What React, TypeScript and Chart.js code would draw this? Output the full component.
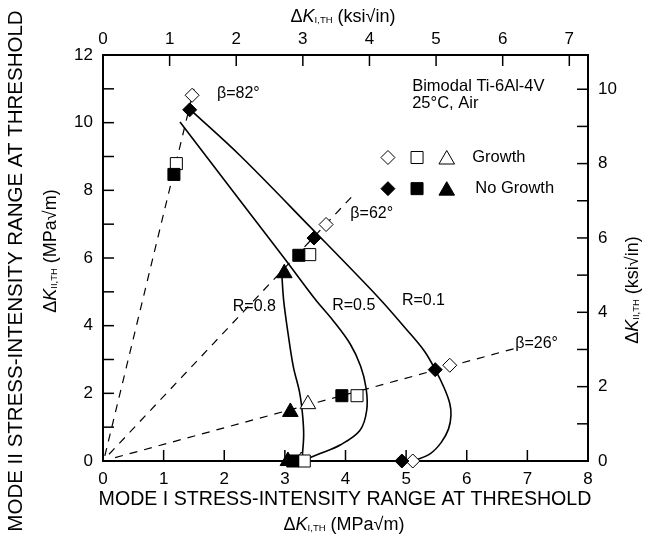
import React, { useEffect, useRef } from 'react';
import { Chart, registerables } from 'chart.js';

Chart.register(...registerables);

const MPA_PER_KSI = 1.0988;
const X_MAX = 8;
const Y_MAX = 12;

// Growth (open symbols)
const growthDiamonds = [
  { x: 1.47, y: 10.81 }, { x: 3.68, y: 6.99 }, { x: 5.72, y: 2.83 }, { x: 5.11, y: 0 },
];
const growthSquares = [
  { x: 1.21, y: 8.79 }, { x: 3.41, y: 6.1 }, { x: 4.19, y: 1.93 }, { x: 3.32, y: 0 },
];
const growthTriangles = [{ x: 3.38, y: 1.68 }, { x: 3.27, y: 0 }];

// No growth (filled symbols)
const noGrowthDiamonds = [
  { x: 1.43, y: 10.38 }, { x: 3.48, y: 6.59 }, { x: 5.48, y: 2.7 }, { x: 4.93, y: 0 },
];
const noGrowthSquares = [
  { x: 1.17, y: 8.47 }, { x: 3.23, y: 6.08 }, { x: 3.94, y: 1.93 }, { x: 3.13, y: 0 },
];
const noGrowthTriangles = [{ x: 2.99, y: 5.55 }, { x: 3.09, y: 1.45 }, { x: 3.05, y: 0 }];

// Threshold curves
const curveR01 = [
  { x: 1.43, y: 10.4 }, { x: 2.26, y: 9.03 }, { x: 3.4, y: 6.95 }, { x: 4.55, y: 4.82 },
  { x: 5.01, y: 3.88 }, { x: 5.3, y: 3.25 }, { x: 5.48, y: 2.7 }, { x: 5.63, y: 2.15 },
  { x: 5.72, y: 1.7 }, { x: 5.74, y: 1.35 }, { x: 5.7, y: 0.95 }, { x: 5.58, y: 0.55 },
  { x: 5.4, y: 0.22 }, { x: 5.12, y: 0 },
];
const curveR05 = [
  { x: 1.27, y: 10.02 }, { x: 2.26, y: 7.7 }, { x: 3.0, y: 5.97 }, { x: 3.5, y: 4.78 },
  { x: 3.8, y: 4.14 }, { x: 4.08, y: 3.45 }, { x: 4.25, y: 2.8 }, { x: 4.34, y: 2.15 },
  { x: 4.35, y: 1.5 }, { x: 4.24, y: 0.91 }, { x: 3.92, y: 0.48 }, { x: 3.58, y: 0.22 },
  { x: 3.28, y: 0 },
];
const curveR08 = [
  { x: 2.95, y: 5.5 }, { x: 2.98, y: 4.75 }, { x: 3.05, y: 3.8 }, { x: 3.14, y: 2.78 },
  { x: 3.24, y: 2.05 }, { x: 3.29, y: 1.4 }, { x: 3.31, y: 0.75 }, { x: 3.28, y: 0 },
];

// Loading-angle lines
const beta82 = [{ x: 0.03, y: 0.15 }, { x: 1.5, y: 11.0 }];
const beta62 = [{ x: 0.1, y: 0.2 }, { x: 4.15, y: 7.9 }];
const beta26 = [{ x: 0.2, y: 0.1 }, { x: 6.8, y: 3.33 }];

// Text annotations (data units)
const annotationTexts = ['β=82°', 'β=62°', 'β=26°', 'R=0.8', 'R=0.5', 'R=0.1', 'Bimodal Ti-6Al-4V', '25°C, Air'];
const annotationX = [1.88, 4.08, 6.8, 2.14, 3.78, 4.93, 5.1, 5.1];
const annotationY = [10.87, 7.32, 3.48, 4.57, 4.6, 4.75, 11.07, 10.57];
const annotationSize = [16, 16, 16, 16, 16, 16, 16.5, 16.5];

// Legend
const legendLabels = ['Growth', 'No Growth'];
const legendRowY = [8.97, 8.05];
const legendMarkerX = [4.7, 5.18, 5.67];
const legendTextX = [6.09, 6.14];

const FONT = '"Liberation Sans", Arial, Helvetica, sans-serif';

type Part = { t: string; size: number; italic?: boolean; dy?: number };

function drawParts(ctx: CanvasRenderingContext2D, parts: Part[], cx: number, cy: number, rotate: boolean) {
  ctx.save();
  ctx.translate(cx, cy);
  if (rotate) ctx.rotate(-Math.PI / 2);
  ctx.fillStyle = '#000';
  ctx.textBaseline = 'alphabetic';
  ctx.textAlign = 'left';
  let total = 0;
  const widths: number[] = [];
  for (const p of parts) {
    ctx.font = `${p.italic ? 'italic ' : ''}${p.size}px ${FONT}`;
    const w = ctx.measureText(p.t).width;
    widths.push(w);
    total += w;
  }
  let x = -total / 2;
  const base = parts[0].size * 0.36;
  parts.forEach((p, i) => {
    ctx.font = `${p.italic ? 'italic ' : ''}${p.size}px ${FONT}`;
    ctx.fillText(p.t, x, base + (p.dy || 0));
    x += widths[i];
  });
  ctx.restore();
}

function marker(ctx: CanvasRenderingContext2D, style: string, x: number, y: number, r: number, filled: boolean) {
  ctx.beginPath();
  if (style === 'diamond') {
    ctx.moveTo(x, y - r); ctx.lineTo(x + r, y); ctx.lineTo(x, y + r); ctx.lineTo(x - r, y);
    ctx.closePath();
  } else if (style === 'square') {
    const h = r * Math.SQRT1_2;
    ctx.rect(x - h, y - h, 2 * h, 2 * h);
  } else {
    ctx.moveTo(x, y - r);
    ctx.lineTo(x + 0.866 * r, y + 0.5 * r);
    ctx.lineTo(x - 0.866 * r, y + 0.5 * r);
    ctx.closePath();
  }
  ctx.fillStyle = filled ? '#000' : '#fff';
  ctx.fill();
  ctx.strokeStyle = '#000';
  ctx.lineWidth = 1;
  ctx.stroke();
}

const inwardTicks = {
  id: 'inwardTicks',
  beforeDatasetsDraw(chart: any) {
    const { ctx, chartArea: a, scales } = chart;
    const L = 11;
    ctx.save();
    ctx.strokeStyle = '#000';
    ctx.lineWidth = 1.5;
    const seg = (x1: number, y1: number, x2: number, y2: number) => {
      ctx.beginPath(); ctx.moveTo(x1, y1); ctx.lineTo(x2, y2); ctx.stroke();
    };
    for (const t of scales.x.ticks) { const p = scales.x.getPixelForValue(t.value); seg(p, a.bottom, p, a.bottom - L); }
    for (const t of scales.x2.ticks) { const p = scales.x2.getPixelForValue(t.value); seg(p, a.top, p, a.top + L); }
    for (const t of scales.y.ticks) { const p = scales.y.getPixelForValue(t.value); seg(a.left, p, a.left + L, p); }
    for (const t of scales.y2.ticks) { const p = scales.y2.getPixelForValue(t.value); seg(a.right, p, a.right - L, p); }
    ctx.restore();
  },
};

const textPlugin = {
  id: 'texts',
  afterDraw(chart: any) {
    const { ctx, scales } = chart;
    const sx = scales.x, sy = scales.y;
    // axis titles
    drawParts(ctx, [
      { t: 'Δ', size: 18 }, { t: 'K', size: 18, italic: true }, { t: 'I,TH', size: 9.5, dy: 1 }, { t: ' (ksi√in)', size: 18 },
    ], 335, 8, false);
    drawParts(ctx, [{ t: 'MODE I STRESS-INTENSITY RANGE AT THRESHOLD', size: 19.6 }], 337, 490, false);
    drawParts(ctx, [
      { t: 'Δ', size: 18 }, { t: 'K', size: 18, italic: true }, { t: 'I,TH', size: 9.5, dy: 1 }, { t: ' (MPa√m)', size: 18 },
    ], 336, 516, false);
    drawParts(ctx, [{ t: 'MODE II STRESS-INTENSITY RANGE AT THRESHOLD', size: 20.5 }], 7, 263, true);
    drawParts(ctx, [
      { t: 'Δ', size: 18 }, { t: 'K', size: 18, italic: true }, { t: 'II,TH', size: 9.5, dy: 1 }, { t: ' (MPa√m)', size: 18 },
    ], 42, 243, true);
    drawParts(ctx, [
      { t: 'Δ', size: 18 }, { t: 'K', size: 18, italic: true }, { t: 'II,TH', size: 9.5, dy: 1 }, { t: ' (ksi√in)', size: 18 },
    ], 624, 282, true);

    // annotations
    ctx.save();
    ctx.fillStyle = '#000';
    ctx.textAlign = 'left';
    ctx.textBaseline = 'middle';
    annotationTexts.forEach((t, i) => {
      ctx.font = `${annotationSize[i]}px ${FONT}`;
      ctx.fillText(t, sx.getPixelForValue(annotationX[i]), sy.getPixelForValue(annotationY[i]));
    });
    // legend
    const styles = ['diamond', 'square', 'triangle'];
    const radii = [7, 8.5, 9];
    legendLabels.forEach((lab, row) => {
      const py = sy.getPixelForValue(legendRowY[row]);
      styles.forEach((s, k) => {
        marker(ctx, s, sx.getPixelForValue(legendMarkerX[k]), py + (s === 'triangle' ? 2 : 0), radii[k], row === 1);
      });
      ctx.fillStyle = '#000';
      ctx.font = `16.5px ${FONT}`;
      ctx.textBaseline = 'middle';
      ctx.fillText(lab, sx.getPixelForValue(legendTextX[row]), py);
    });
    ctx.restore();
  },
};

function pts(data: any[], style: string, radius: number, filled: boolean, order: number) {
  return {
    type: 'scatter' as const,
    data,
    showLine: false,
    pointStyle: style,
    pointRadius: radius,
    pointHoverRadius: radius,
    backgroundColor: filled ? '#000' : '#fff',
    borderColor: '#000',
    borderWidth: 1,
    clip: false as any,
    order,
  };
}

function line(data: any[], dashed: boolean) {
  return {
    type: 'line' as const,
    data,
    showLine: true,
    borderColor: '#000',
    borderWidth: dashed ? 1.2 : 1.6,
    borderDash: dashed ? [8, 7] : [],
    pointRadius: 0,
    tension: dashed ? 0 : 0.35,
    fill: false,
    clip: false as any,
    order: 10,
  };
}

const evenLabel = (v: any) => (Number(v) % 2 === 0 ? String(v) : '');

export default function App() {
  const ref = useRef<HTMLCanvasElement>(null);
  useEffect(() => {
    const tickFont = { family: FONT, size: 17 };
    const chart = new Chart(ref.current as HTMLCanvasElement, {
      type: 'scatter',
      data: {
        datasets: [
          line(curveR01, false), line(curveR05, false), line(curveR08, false),
          line(beta82, true), line(beta62, true), line(beta26, true),
          pts(growthDiamonds, 'rectRot', 7, false, 5),
          pts(growthSquares, 'rect', 8.5, false, 5),
          pts(growthTriangles, 'triangle', 9, false, 5),
          pts(noGrowthDiamonds, 'rectRot', 7, true, 1),
          pts(noGrowthSquares, 'rect', 8.5, true, 1),
          pts(noGrowthTriangles, 'triangle', 9, true, 1),
        ] as any,
      },
      options: {
        responsive: false,
        animation: false,
        devicePixelRatio: 1,
        events: [],
        layout: { padding: 0 },
        plugins: { legend: { display: false }, tooltip: { enabled: false } },
        scales: {
          x: {
            type: 'linear', position: 'bottom', min: 0, max: X_MAX,
            grid: { display: false, drawTicks: false },
            border: { display: true, color: '#000', width: 2 },
            ticks: { stepSize: 1, color: '#000', font: tickFont, padding: 8, autoSkip: false, maxRotation: 0 },
            afterFit: (s: any) => { s.height = 73; },
          },
          x2: {
            type: 'linear', position: 'top', min: 0, max: X_MAX / MPA_PER_KSI,
            grid: { display: false, drawTicks: false },
            border: { display: true, color: '#000', width: 2 },
            ticks: { stepSize: 1, includeBounds: false, color: '#000', font: tickFont, padding: 5, autoSkip: false, maxRotation: 0 },
            afterFit: (s: any) => { s.height = 47; },
          },
          y: {
            type: 'linear', position: 'left', min: 0, max: Y_MAX,
            grid: { display: false, drawTicks: false },
            border: { display: true, color: '#000', width: 2 },
            ticks: { stepSize: 1, color: '#000', font: tickFont, padding: 10, autoSkip: false, callback: evenLabel },
            afterFit: (s: any) => { s.width = 95; },
          },
          y2: {
            type: 'linear', position: 'right', min: 0, max: Y_MAX / MPA_PER_KSI,
            grid: { display: false, drawTicks: false },
            border: { display: true, color: '#000', width: 2 },
            ticks: { stepSize: 1, includeBounds: false, color: '#000', font: tickFont, padding: 10, autoSkip: false, callback: evenLabel },
            afterFit: (s: any) => { s.width = 55; },
          },
        },
      } as any,
      plugins: [inwardTicks, textPlugin],
    });
    return () => chart.destroy();
  }, []);
  return <canvas ref={ref} width={635} height={526} style={{ display: 'block' }} />;
}
